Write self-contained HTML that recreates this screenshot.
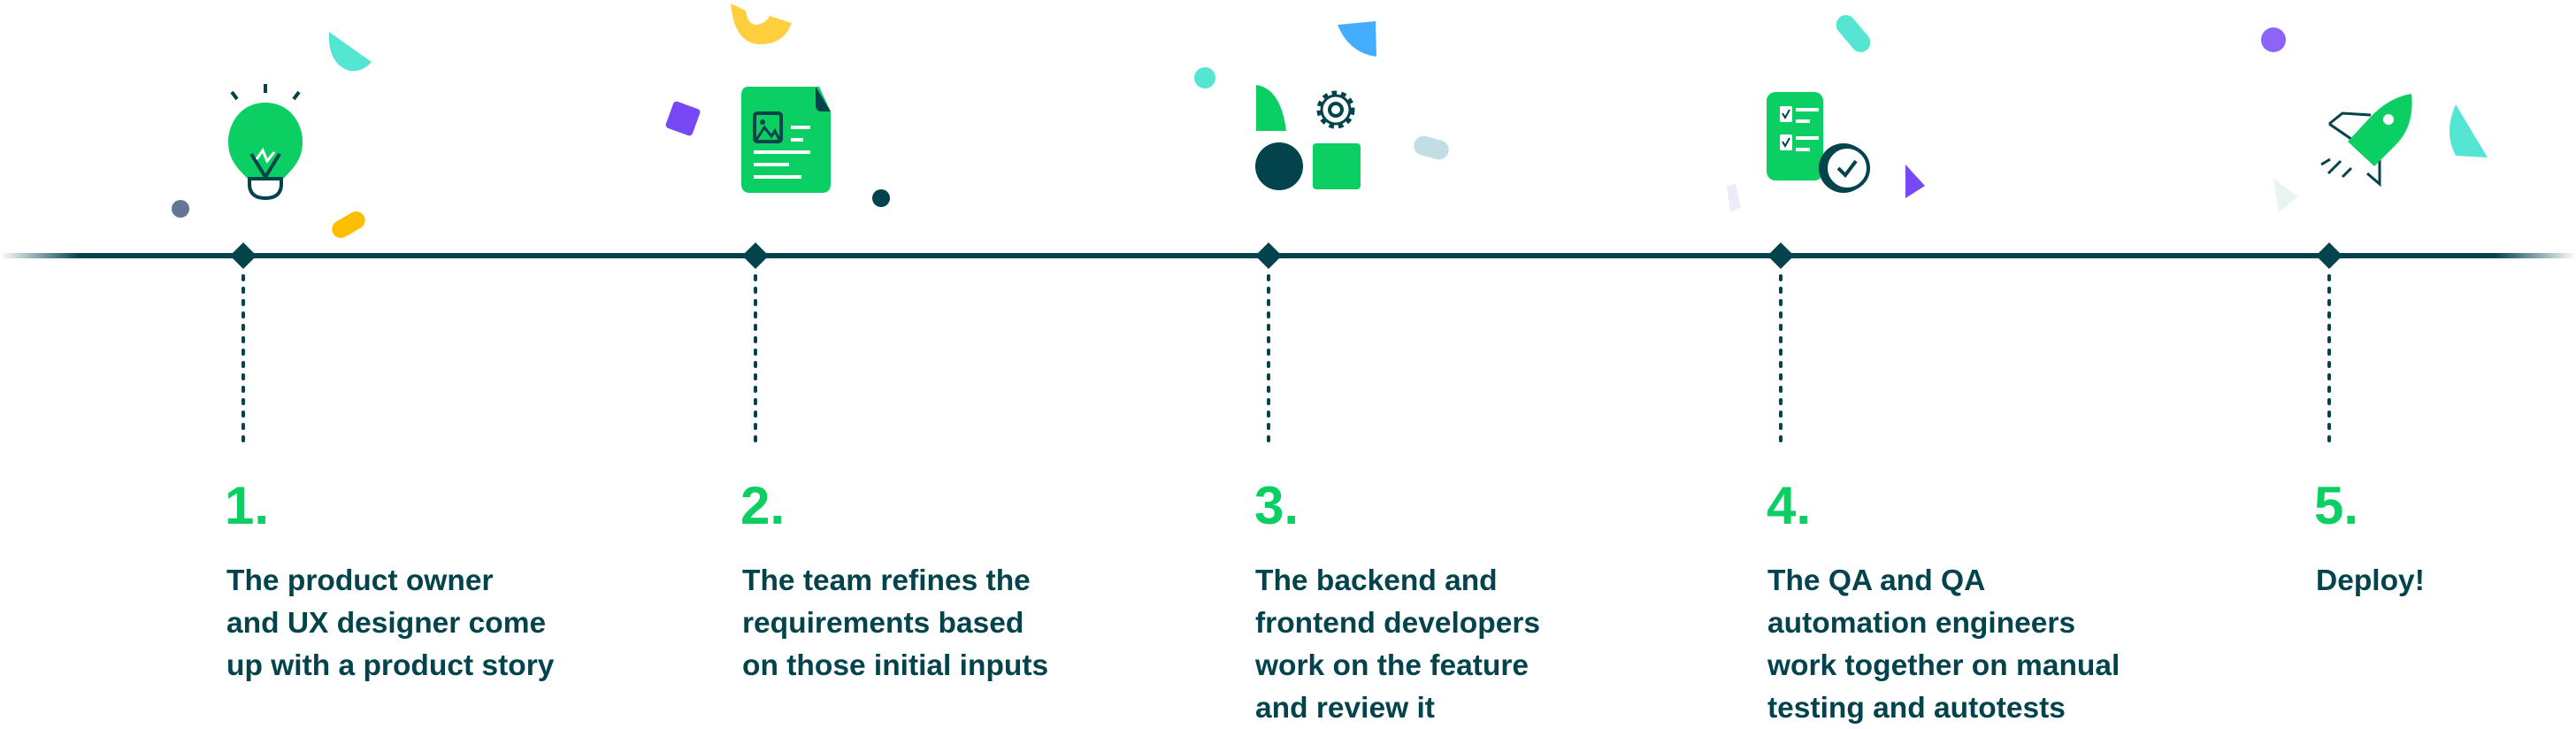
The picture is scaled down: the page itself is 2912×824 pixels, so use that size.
<!DOCTYPE html>
<html><head><meta charset="utf-8"><style>
html,body{margin:0;padding:0;background:#fff;width:2912px;height:824px;overflow:hidden}
svg{display:block}
.n{font-family:"Liberation Sans",sans-serif;font-weight:bold;font-size:60px;fill:#0bcf63}
.t{font-family:"Liberation Sans",sans-serif;font-weight:bold;font-size:33.5px;fill:#03434c}
</style></head><body>
<svg width="2912" height="824" viewBox="0 0 2912 824" xmlns="http://www.w3.org/2000/svg">
<defs>
<linearGradient id="lf" x1="0" x2="1"><stop offset="0" stop-color="#03434c" stop-opacity="0"/><stop offset="1" stop-color="#03434c"/></linearGradient>
<linearGradient id="rf" x1="0" x2="1"><stop offset="0" stop-color="#03434c"/><stop offset="1" stop-color="#03434c" stop-opacity="0"/></linearGradient>
</defs>
<rect x="0" y="286" width="90" height="6" fill="url(#lf)"/>
<rect x="90" y="286" width="2730" height="6" fill="#03434c"/>
<rect x="2820" y="286" width="92" height="6" fill="url(#rf)"/>
<g fill="#03434c">
<polygon points="275,274 290,289 275,304 260,289"/>
<polygon points="854,274 869,289 854,304 839,289"/>
<polygon points="1434,274 1449,289 1434,304 1419,289"/>
<polygon points="2013,274 2028,289 2013,304 1998,289"/>
<polygon points="2633,274 2648,289 2633,304 2618,289"/>
</g>
<g stroke="#03434c" stroke-width="4" stroke-dasharray="4 10" stroke-linecap="round">
<line x1="275" y1="312" x2="275" y2="498"/>
<line x1="854" y1="312" x2="854" y2="498"/>
<line x1="1434" y1="312" x2="1434" y2="498"/>
<line x1="2013" y1="312" x2="2013" y2="498"/>
<line x1="2633" y1="312" x2="2633" y2="498"/>
</g>
<text class="n" x="254" y="592">1.</text>
<text class="n" x="837" y="592">2.</text>
<text class="n" x="1418" y="592">3.</text>
<text class="n" x="1997" y="592">4.</text>
<text class="n" x="2616" y="592">5.</text>
<text class="t" x="256" y="667">The product owner</text>
<text class="t" x="256" y="715">and UX designer come</text>
<text class="t" x="256" y="763">up with a product story</text>
<text class="t" x="839" y="667">The team refines the</text>
<text class="t" x="839" y="715">requirements based</text>
<text class="t" x="839" y="763">on those initial inputs</text>
<text class="t" x="1419" y="667">The backend and</text>
<text class="t" x="1419" y="715">frontend developers</text>
<text class="t" x="1419" y="763">work on the feature</text>
<text class="t" x="1419" y="811">and review it</text>
<text class="t" x="1998" y="667">The QA and QA</text>
<text class="t" x="1998" y="715">automation engineers</text>
<text class="t" x="1998" y="763">work together on manual</text>
<text class="t" x="1998" y="811">testing and autotests</text>
<text class="t" x="2618" y="667">Deploy!</text>

<!-- bulb -->
<g>
<line x1="300" y1="95" x2="300" y2="105" stroke="#03434c" stroke-width="4"/>
<line x1="262" y1="104" x2="268" y2="112" stroke="#03434c" stroke-width="4"/>
<line x1="338" y1="104" x2="332" y2="112" stroke="#03434c" stroke-width="4"/>
<path d="M300 116 C272 116 258 140 258 160 C258 180 268 190 280 202 L320 202 C332 190 342 180 342 160 C342 140 328 116 300 116Z" fill="#0bcf63"/>
<path d="M284 174 L300 200 L316 174" fill="none" stroke="#03434c" stroke-width="4"/>
<path d="M290 180 L297 170 L302 182 L310 172" fill="none" stroke="#fff" stroke-width="3"/>
<path d="M282 202 L318 202 L318 208 C318 220 310 224 300 224 C290 224 282 220 282 208Z" fill="#fff" stroke="#03434c" stroke-width="4"/>
</g>
<!-- doc -->
<g>
<path d="M846 98 L926 98 L939 126 L939 208 Q939 218 929 218 L848 218 Q838 218 838 208 L838 108 Q838 98 846 98Z" fill="#0bcf63"/>
<path d="M922 98 L939 126 L928 126 Q922 126 922 118Z" fill="#03434c"/>
<rect x="853" y="128" width="30" height="32" rx="3" fill="none" stroke="#03434c" stroke-width="4"/>
<circle cx="862" cy="138" r="3" fill="#03434c"/>
<path d="M855 158 L864 144 L872 154 L876 148 L881 158" fill="none" stroke="#03434c" stroke-width="3"/>
<rect x="894" y="142" width="22" height="4" fill="#fff"/>
<rect x="894" y="156" width="14" height="4" fill="#fff"/>
<rect x="852" y="170" width="64" height="4" fill="#fff"/>
<rect x="852" y="184" width="40" height="4" fill="#fff"/>
<rect x="852" y="198" width="54" height="4" fill="#fff"/>
</g>
<!-- dev -->
<g>
<path d="M1420 96 Q1448 100 1454 148 L1420 148Z" fill="#0bcf63"/>
<circle cx="1510" cy="124" r="17" fill="none" stroke="#03434c" stroke-width="9" stroke-dasharray="5 4.5"/>
<circle cx="1510" cy="124" r="15" fill="#fff"/>
<circle cx="1510" cy="124" r="16" fill="none" stroke="#03434c" stroke-width="3"/>
<circle cx="1510" cy="124" r="7" fill="none" stroke="#03434c" stroke-width="4"/>
<circle cx="1446" cy="188" r="27" fill="#03434c"/>
<rect x="1484" y="162" width="54" height="52" rx="4" fill="#0bcf63"/>
</g>
<!-- checklist -->
<g>
<rect x="1997" y="104" width="64" height="100" rx="10" fill="#0bcf63"/>
<rect x="2012" y="120" width="14" height="18" rx="2" fill="#fff"/>
<rect x="2012" y="152" width="14" height="18" rx="2" fill="#fff"/>
<path d="M2015 128 L2018 133 L2023 124" fill="none" stroke="#03434c" stroke-width="2"/>
<path d="M2015 160 L2018 165 L2023 156" fill="none" stroke="#03434c" stroke-width="2"/>
<rect x="2030" y="122" width="26" height="4" fill="#fff"/>
<rect x="2030" y="135" width="16" height="4" fill="#fff"/>
<rect x="2030" y="154" width="26" height="4" fill="#fff"/>
<rect x="2030" y="167" width="16" height="4" fill="#fff"/>
<circle cx="2084" cy="190" r="28" fill="#03434c"/>
<circle cx="2088" cy="190" r="24" fill="#fff" stroke="#03434c" stroke-width="4"/>
<path d="M2078 190 L2086 198 L2098 182" fill="none" stroke="#03434c" stroke-width="4"/>
</g>
<!-- rocket -->
<g>
<path d="M2633 140 L2648 128 L2680 130" fill="none" stroke="#03434c" stroke-width="3"/>
<path d="M2633 140 L2668 164" fill="none" stroke="#03434c" stroke-width="3"/>
<path d="M2690 172 L2690 208 L2676 196" fill="none" stroke="#03434c" stroke-width="3"/>
<path d="M2726 106 Q2730 142 2708 164 L2684 188 L2654 160 L2678 134 Q2700 110 2726 106Z" fill="#0bcf63"/>
<circle cx="2700" cy="135" r="6" fill="#fff"/>
<line x1="2634" y1="180" x2="2624" y2="186" stroke="#03434c" stroke-width="3"/>
<line x1="2646" y1="182" x2="2632" y2="196" stroke="#03434c" stroke-width="3"/>
<line x1="2658" y1="190" x2="2648" y2="200" stroke="#03434c" stroke-width="3"/>
</g>

<!-- confetti -->
<path d="M372 36 L420 70 Q410 82 395 80 Q370 72 372 36Z" fill="#54e6d3"/>
<circle cx="204" cy="236" r="10" fill="#647694"/>
<rect x="374" y="244" width="40" height="20" rx="10" fill="#fcbf00" transform="rotate(-30 394 254)"/>
<path d="M826 4 L843 12 Q845 28 856 28 Q866 26 870 18 L895 26 Q886 50 860 50 Q830 50 826 4Z" fill="#ffcf40"/>
<rect x="756" y="118" width="32" height="32" rx="4" fill="#7748f5" transform="rotate(20 772 134)"/>
<circle cx="996" cy="224" r="10" fill="#03434c"/>
<circle cx="1362" cy="88" r="12" fill="#54e6d3"/>
<path d="M1512 28 L1555 24 L1556 64 Q1525 60 1512 28Z" fill="#45adff"/>
<rect x="1598" y="156" width="40" height="22" rx="11" fill="#c2dde3" transform="rotate(15 1618 167)"/>
<rect x="2084" y="14" width="22" height="48" rx="11" fill="#54e6d3" transform="rotate(-40 2095 38)"/>
<path d="M1952 210 L1962 208 L1968 234 L1956 240Z" fill="#ecebf7"/>
<path d="M2154 186 L2176 210 L2154 224Z" fill="#7748f5"/>
<circle cx="2570" cy="45" r="14" fill="#8d64f8"/>
<path d="M2776 118 Q2762 150 2776 176 L2812 178 Z" fill="#54e6d3"/>
<path d="M2570 202 L2598 222 L2576 240Z" fill="#e9f3f2"/>
</svg>
</body></html>
